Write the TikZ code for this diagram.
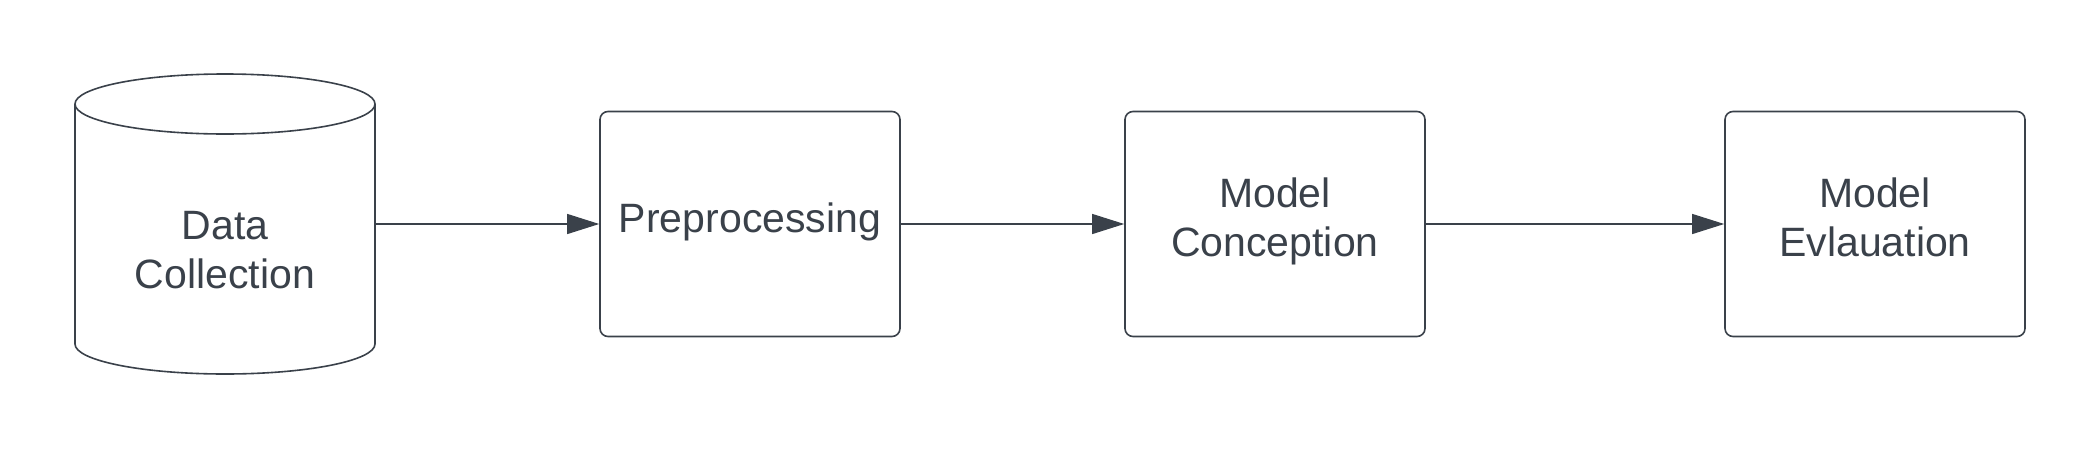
\documentclass[tikz,border=0pt]{standalone}
\usepackage{fontspec}
\setmainfont{Liberation Sans}
\usetikzlibrary{arrows.meta}
\definecolor{ink}{HTML}{3A414A}
\begin{document}
\begin{tikzpicture}[x=0.5pt,y=-0.5pt,
  every node/.style={text=ink,font=\fontsize{20.5pt}{24.5pt}\selectfont,align=center},
  stepbox/.style={draw=ink,line width=0.8pt,rounded corners=4pt,minimum width=150pt,minimum height=112.5pt,inner sep=0pt,text depth=6.4pt},
  conn/.style={draw=ink,line width=0.55pt,-{Triangle[length=16pt,width=10pt]}}]
\useasboundingbox (0,0) rectangle (2100,450);
% cylinder
\draw[ink,line width=0.8pt] (225,104) ellipse [x radius=75pt, y radius=15pt];
\draw[ink,line width=0.8pt] (75,104) -- (75,344) arc[start angle=180,end angle=360,x radius=75pt,y radius=15pt] -- (375,104);
\node[minimum width=150pt,minimum height=150pt,inner sep=0pt] (dc) at (225,224) {};
\node at (225,250) {Data\\Collection};
\node[stepbox] (pre) at (750,224) {Preprocessing};
\node[stepbox] (mc) at (1275,224) {Model\\Conception};
\node[stepbox] (me) at (1875,224) {Model\\Evlauation};
\draw[conn] (dc.east) -- (pre.west);
\draw[conn] (pre.east) -- (mc.west);
\draw[conn] (mc.east) -- (me.west);
\end{tikzpicture}
\end{document}
